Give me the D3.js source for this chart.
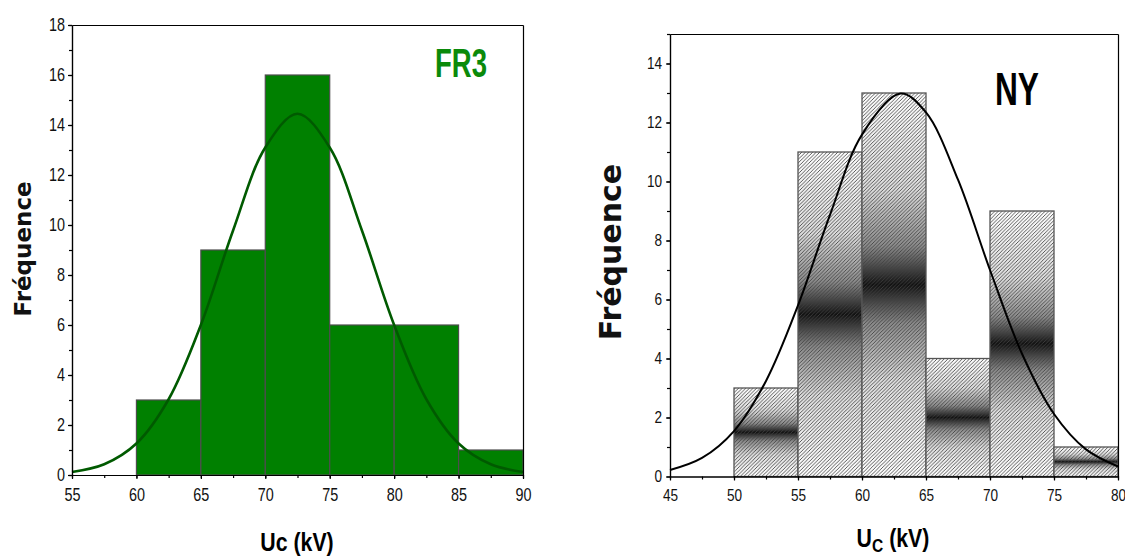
<!DOCTYPE html>
<html>
<head>
<meta charset="utf-8"/>
<title>Histogrammes Uc</title>
<script src="https://cdn.jsdelivr.net/npm/d3@7"></script>
<style>
	body { margin: 0; background: #fff; }
	.tick text { font-family: "Liberation Sans", sans-serif; font-size: 16px; fill: #111; }
	.domain, .tick line { stroke: #000; stroke-width: 1.2; }
	.ytitle { font-family: "DejaVu Sans", sans-serif; font-weight: bold; fill: #111; }
	.xtitle, .tag { font-family: "Liberation Sans", sans-serif; font-weight: bold; }
</style>
</head>
<body>
<script>
// ---- FR3 (left) ----
var fr3Bins = [60, 65, 70, 75, 80, 85];       // bin starts, width 5
var fr3Counts = [3, 9, 16, 6, 6, 1];
var fr3FitX = [55, 57.5, 60, 62.5, 65, 67.5, 70, 72.5, 75, 77.5, 80, 82.5, 85, 87.5, 90];
var fr3FitY = [0.12, 0.43, 1.26, 3.03, 6.0, 9.78, 13.1, 14.45, 13.1, 9.78, 6.0, 3.03, 1.26, 0.43, 0.12];
var fr3XTicks = [55, 60, 65, 70, 75, 80, 85, 90];
var fr3YTicks = [0, 2, 4, 6, 8, 10, 12, 14, 16, 18];

// ---- NY (right) ----
var nyBins = [50, 55, 60, 65, 70, 75];
var nyCounts = [3, 11, 13, 4, 9, 1];
var nyFitX = [45, 47.5, 50, 52.5, 55, 57.5, 60, 63, 65, 67.5, 70, 72.5, 75, 77.5, 80];
var nyFitY = [0.22, 0.63, 1.54, 3.24, 5.8, 8.87, 11.59, 12.98, 12.34, 10.06, 7.0, 4.16, 2.12, 0.92, 0.34];
var nyXTicks = [45, 50, 55, 60, 65, 70, 75, 80];
var nyYTicks = [0, 2, 4, 6, 8, 10, 12, 14];

var binW = 5;
var W = 1125, H = 556;

var svg = d3.select("body").append("svg")
	.attr("width", W)
	.attr("height", H);

var defs = svg.append("defs");

// hatch + dark band for NY bars
var grad = defs.append("linearGradient")
	.attr("id", "band")
	.attr("x1", 0).attr("y1", 0).attr("x2", 0).attr("y2", 1);
[[0, "#ffffff"], [0.25, "#dddddd"], [0.4, "#8a8a8a"], [0.5, "#111"], [0.6, "#8a8a8a"], [0.75, "#dddddd"], [1, "#ffffff"]]
	.forEach(function(s) {
		grad.append("stop").attr("offset", s[0]).attr("stop-color", s[1]);
	});

var hatch = defs.append("pattern")
	.attr("id", "hatch")
	.attr("patternUnits", "userSpaceOnUse")
	.attr("width", 3.6).attr("height", 3.6);
hatch.append("path")
	.attr("d", "M-1,1 l2,-2 M0,3.6 l3.6,-3.6 M2.6,4.6 l2,-2")
	.attr("stroke", "#404040")
	.attr("stroke-width", 0.85);

function minorTicks(domain, step) {
	var out = [];
	for (var v = domain[0]; v <= domain[1] + 1e-9; v += step) out.push(v);
	return out;
}

function drawPanel(opt) {
	var x = d3.scaleLinear().domain(opt.xDomain).range([opt.left, opt.right]);
	var y = d3.scaleLinear().domain(opt.yDomain).range([opt.bottom, opt.top]);
	var g = svg.append("g");

	// bars
	var bars = g.selectAll("g.bar")
		.data(opt.bins.map(function(b, i) { return { x0: b, n: opt.counts[i] }; }))
		.enter().append("g").attr("class", "bar");

	function box(sel) {
		sel.attr("x", function(d) { return x(d.x0); })
			.attr("y", function(d) { return y(d.n); })
			.attr("width", function(d) { return x(d.x0 + binW) - x(d.x0); })
			.attr("height", function(d) { return y(0) - y(d.n); });
	}

	if (opt.hatched) {
		bars.append("rect").call(box).attr("fill", "url(#band)");
		bars.append("rect").call(box)
			.attr("fill", "url(#hatch)")
			.attr("stroke", "#555")
			.attr("stroke-width", 1.3);
	} else {
		bars.append("rect").call(box)
			.attr("fill", opt.fill)
			.attr("stroke", "#4d4d4d")
			.attr("stroke-width", 1.2);
	}

	// fitted curve
	var line = d3.line()
		.x(function(d) { return x(d[0]); })
		.y(function(d) { return y(d[1]); })
		.curve(d3.curveCatmullRom.alpha(0.5));
	g.append("path")
		.datum(opt.fitX.map(function(v, i) { return [v, opt.fitY[i]]; }))
		.attr("d", line)
		.attr("fill", "none")
		.attr("stroke", opt.curve)
		.attr("stroke-width", opt.curveW);

	// frame
	g.append("g").attr("transform", "translate(0," + opt.top + ")")
		.call(d3.axisTop(x).tickValues([]).tickSizeOuter(0));
	g.append("g").attr("transform", "translate(" + opt.right + ",0)")
		.call(d3.axisRight(y).tickValues([]).tickSizeOuter(0));

	// minor ticks
	g.append("g").attr("transform", "translate(0," + opt.bottom + ")")
		.call(d3.axisBottom(x).tickValues(minorTicks(opt.xDomain, 2.5)).tickSize(3).tickSizeOuter(0).tickFormat(""));
	g.append("g").attr("transform", "translate(" + opt.left + ",0)")
		.call(d3.axisLeft(y).tickValues(minorTicks(opt.yDomain, 1)).tickSize(3).tickSizeOuter(0).tickFormat(""));

	// major axes
	var xa = g.append("g").attr("transform", "translate(0," + opt.bottom + ")")
		.call(d3.axisBottom(x).tickValues(opt.xTicks).tickSize(4).tickPadding(opt.xPad).tickSizeOuter(0));
	var ya = g.append("g").attr("transform", "translate(" + opt.left + ",0)")
		.call(d3.axisLeft(y).tickValues(opt.yTicks).tickSize(4).tickPadding(opt.yPad).tickSizeOuter(0));

	// narrow look of the original labels
	xa.selectAll(".tick text").style("font-size", opt.fs + "px").attr("transform", "scale(0.8,1)");
	ya.selectAll(".tick text").style("font-size", opt.fs + "px")
		.attr("x", 0).attr("transform", "translate(" + (-4 - opt.yPad) + ",0) scale(0.8,1)");

	return { x: x, y: y, g: g };
}

drawPanel({
	xDomain: [55, 90], yDomain: [0, 18],
	left: 72, right: 523, top: 25, bottom: 475,
	bins: fr3Bins, counts: fr3Counts,
	fitX: fr3FitX, fitY: fr3FitY,
	xTicks: fr3XTicks, yTicks: fr3YTicks,
	fill: "#008000", curve: "#005a00", curveW: 2.6,
	xPad: 9, yPad: 3, fs: 18
});

drawPanel({
	xDomain: [45, 80], yDomain: [0, 15],
	left: 670, right: 1118, top: 34, bottom: 476.5,
	bins: nyBins, counts: nyCounts,
	fitX: nyFitX, fitY: nyFitY,
	xTicks: nyXTicks, yTicks: nyYTicks,
	hatched: true, curve: "#000", curveW: 2,
	xPad: 8, yPad: 4, fs: 17
});

// titles
svg.append("text").attr("class", "ytitle")
	.attr("transform", "translate(31,249) rotate(-90)")
	.attr("text-anchor", "middle")
	.style("font-size", "23px")
	.text("Fréquence");

svg.append("text").attr("class", "ytitle")
	.attr("transform", "translate(621,252) rotate(-90)")
	.attr("text-anchor", "middle")
	.style("font-size", "30px")
	.text("Fréquence");

svg.append("text").attr("class", "xtitle")
	.attr("transform", "translate(297,551) scale(0.82,1)")
	.attr("text-anchor", "middle")
	.style("font-size", "26px")
	.text("Uc (kV)");

var xt = svg.append("text").attr("class", "xtitle")
	.attr("transform", "translate(893,547) scale(0.82,1)")
	.attr("text-anchor", "middle")
	.style("font-size", "26px");
xt.append("tspan").text("U");
xt.append("tspan").attr("dy", 5).style("font-size", "19px").text("C");
xt.append("tspan").attr("dy", -5).text(" (kV)");

svg.append("text").attr("class", "tag")
	.attr("x", 435).attr("y", 77)
	.attr("textLength", 52).attr("lengthAdjust", "spacingAndGlyphs")
	.style("font-size", "40px")
	.attr("fill", "#0a8a0a")
	.text("FR3");

svg.append("text").attr("class", "tag")
	.attr("x", 995).attr("y", 105)
	.attr("textLength", 44).attr("lengthAdjust", "spacingAndGlyphs")
	.style("font-size", "46px")
	.attr("fill", "#000")
	.text("NY");
</script>
</body>
</html>
